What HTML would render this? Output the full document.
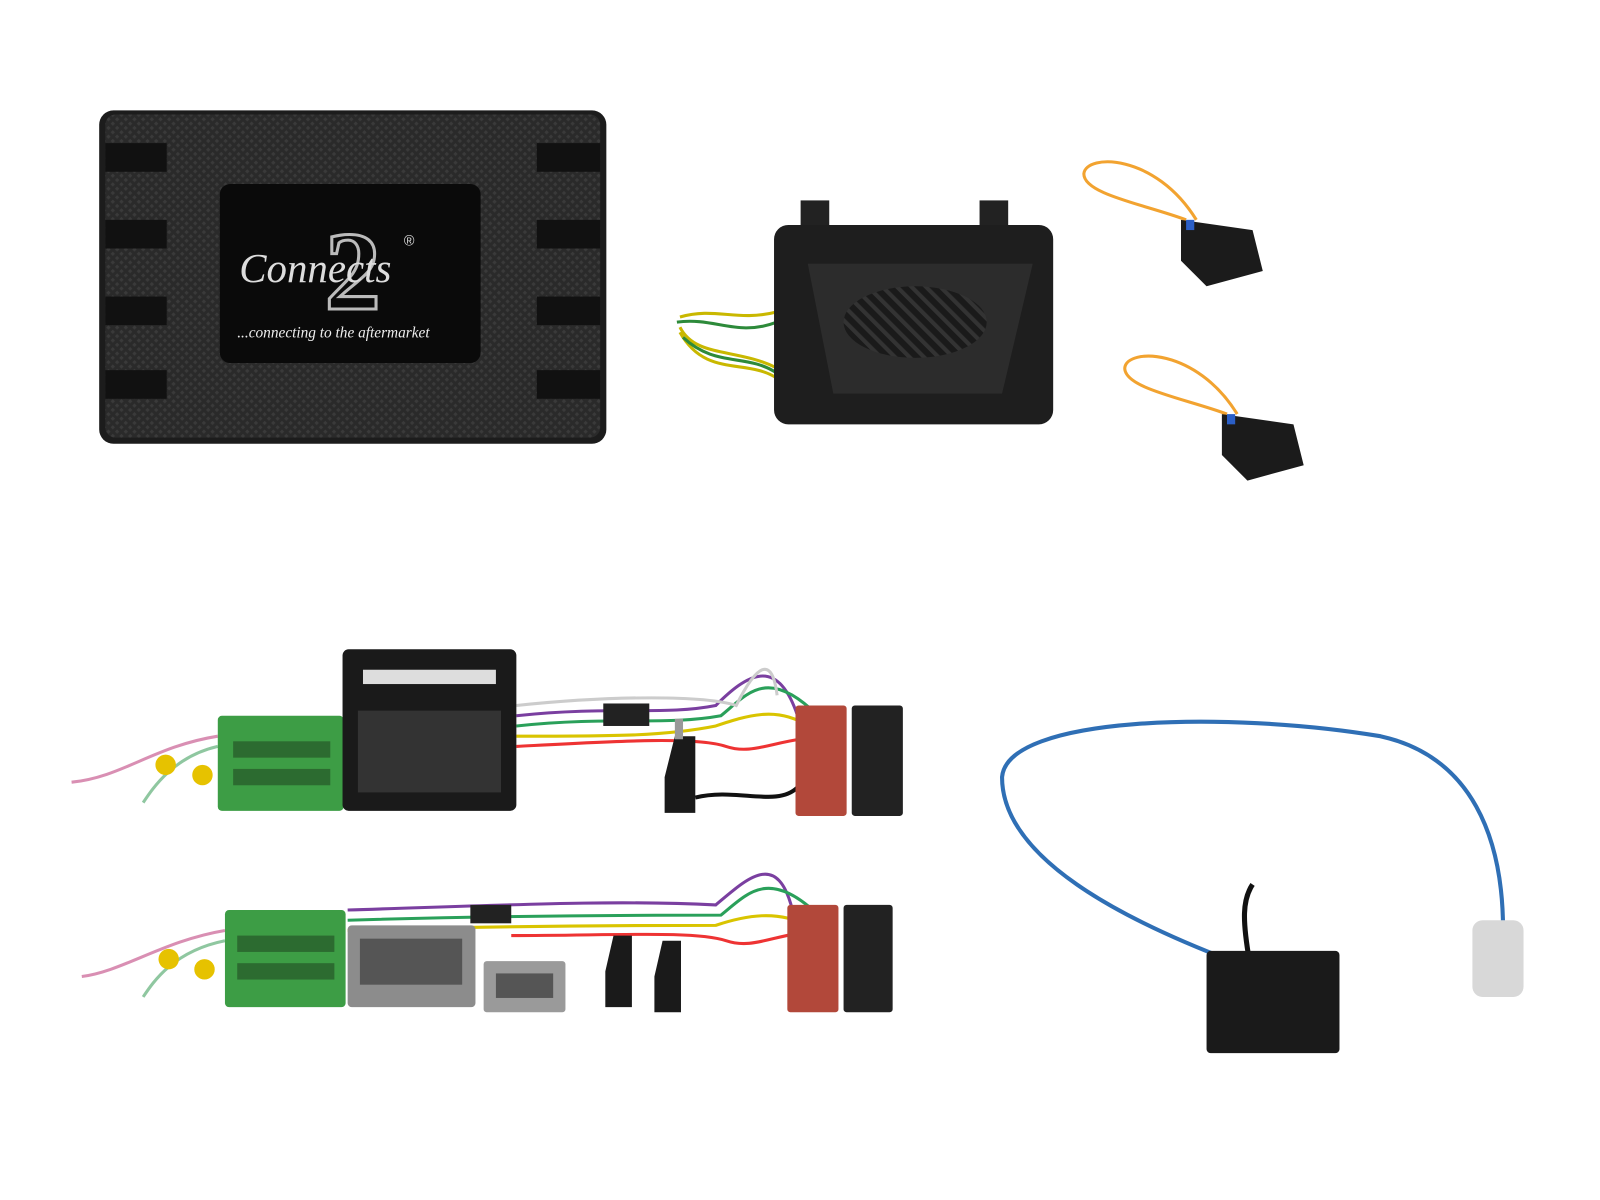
<!DOCTYPE html>
<html><head><meta charset="utf-8"><style>
html,body{margin:0;padding:0;background:#fff;}
svg{display:block;}
</style></head><body>
<svg width="1600" height="1200" viewBox="0 0 1600 1200" xmlns="http://www.w3.org/2000/svg">
<defs>
<pattern id="mesh" width="6" height="6" patternUnits="userSpaceOnUse" patternTransform="rotate(45)">
<rect width="6" height="6" fill="#2a2a2a"/><rect width="3" height="3" fill="#3a3a3a"/>
</pattern>
<pattern id="grill" width="10" height="10" patternUnits="userSpaceOnUse" patternTransform="rotate(-45)">
<rect width="10" height="10" fill="#1a1a1a"/><rect width="4" height="10" fill="#333"/>
</pattern>
</defs>
<g transform="scale(1.0225)">
<!-- main module -->
<rect x="97" y="108" width="496" height="326" rx="14" fill="#1c1c1c"/>
<rect x="103" y="112" width="484" height="316" rx="10" fill="url(#mesh)"/>
<g fill="#111">
<rect x="103" y="140" width="60" height="28"/><rect x="103" y="215" width="60" height="28"/>
<rect x="103" y="290" width="60" height="28"/><rect x="103" y="362" width="60" height="28"/>
<rect x="525" y="140" width="62" height="28"/><rect x="525" y="215" width="62" height="28"/>
<rect x="525" y="290" width="62" height="28"/><rect x="525" y="362" width="62" height="28"/>
</g>
<rect x="215" y="180" width="255" height="175" rx="10" fill="#0a0a0a"/>
<text x="345" y="302" font-family="Liberation Serif, serif" font-size="110" font-weight="bold" fill="none" stroke="#bbb" stroke-width="3" text-anchor="middle">2</text>
<text x="234" y="276" font-family="Liberation Serif, serif" font-style="italic" font-size="40" fill="#ddd">Connects</text>
<text x="395" y="240" font-family="Liberation Sans, sans-serif" font-size="14" fill="#ddd">®</text>
<text x="232" y="330" font-family="Liberation Serif, serif" font-style="italic" font-size="15" fill="#eee">...connecting to the aftermarket</text>

<!-- middle module -->
<path d="M665 310 C700 300 720 315 760 305 M665 320 C680 350 720 340 760 360 M665 325 C690 370 730 350 760 370" stroke="#c9b800" stroke-width="3" fill="none"/>
<path d="M662 315 C700 310 720 330 760 315 M668 330 C700 360 730 345 760 365" stroke="#2d8a3a" stroke-width="3" fill="none"/>
<rect x="783" y="196" width="28" height="30" fill="#222"/><rect x="958" y="196" width="28" height="30" fill="#222"/>
<rect x="757" y="220" width="273" height="195" rx="14" fill="#1e1e1e"/>
<path d="M790 258 L1010 258 L980 385 L815 385 Z" fill="#2c2c2c"/>
<ellipse cx="895" cy="315" rx="70" ry="35" fill="url(#grill)"/>

<!-- orange loops -->
<path d="M1160 215 C1120 200 1060 190 1060 170 C1062 150 1130 150 1170 215" stroke="#f2a330" stroke-width="3" fill="none"/>
<path d="M1155 215 L1225 225 L1235 265 L1180 280 L1155 255 Z" fill="#1b1b1b"/>
<rect x="1160" y="215" width="8" height="10" fill="#2b5fc7"/>
<path d="M1200 405 C1160 390 1100 380 1100 360 C1102 340 1170 340 1210 405" stroke="#f2a330" stroke-width="3" fill="none"/>
<path d="M1195 405 L1265 415 L1275 455 L1220 470 L1195 445 Z" fill="#1b1b1b"/>
<rect x="1200" y="405" width="8" height="10" fill="#2b5fc7"/>

<!-- harness 1 -->
<g fill="none" stroke-width="3">
<path d="M505 700 C600 690 650 700 700 690 C730 660 760 640 780 700" stroke="#7a3fa0"/>
<path d="M505 710 C600 700 650 710 705 700 C730 680 750 650 800 700" stroke="#2aa05a"/>
<path d="M505 720 C600 720 650 720 700 710 C730 700 760 690 790 710" stroke="#d9c400"/>
<path d="M505 730 C600 725 680 720 710 730 C740 740 760 720 820 720" stroke="#e33"/>
<path d="M505 690 C600 680 690 680 720 690 C740 650 755 640 760 680" stroke="#ccc"/>
<path d="M213 720 C150 730 120 760 70 765" stroke="#d98fb3"/>
<path d="M213 730 C170 740 150 770 140 785" stroke="#8fc7a0"/>
</g>
<rect x="590" y="688" width="45" height="22" fill="#222"/>
<rect x="213" y="700" width="123" height="93" rx="4" fill="#3d9d45"/>
<g fill="#2c6b30"><rect x="228" y="725" width="95" height="16"/><rect x="228" y="752" width="95" height="16"/></g>
<circle cx="162" cy="748" r="10" fill="#e6c200"/><circle cx="198" cy="758" r="10" fill="#e6c200"/>
<rect x="335" y="635" width="170" height="158" rx="6" fill="#1a1a1a"/>
<rect x="355" y="655" width="130" height="14" fill="#ddd"/>
<g fill="#333"><rect x="350" y="695" width="140" height="80"/></g>
<path d="M650 760 L660 720 L680 720 L680 795 L650 795 Z" fill="#1a1a1a"/>
<rect x="660" y="703" width="8" height="20" fill="#999"/>
<path d="M680 780 C720 770 760 790 780 770" stroke="#111" stroke-width="4" fill="none"/>
<rect x="778" y="690" width="50" height="108" rx="3" fill="#b2483a"/>
<rect x="833" y="690" width="50" height="108" rx="3" fill="#222"/>

<!-- harness 2 -->
<g fill="none" stroke-width="3">
<path d="M340 890 C500 885 600 880 700 885 C730 860 760 830 775 890" stroke="#7a3fa0"/>
<path d="M340 900 C500 895 650 895 705 895 C730 875 750 850 795 890" stroke="#2aa05a"/>
<path d="M340 910 C500 905 650 905 700 905 C730 895 760 890 790 905" stroke="#d9c400"/>
<path d="M500 915 C600 915 680 910 710 920 C740 930 760 910 815 910" stroke="#e33"/>
<path d="M220 910 C160 920 120 950 80 955" stroke="#d98fb3"/>
<path d="M220 920 C170 930 150 960 140 975" stroke="#8fc7a0"/>
</g>
<rect x="460" y="885" width="40" height="18" fill="#222"/>
<rect x="220" y="890" width="118" height="95" rx="4" fill="#3d9d45"/>
<g fill="#2c6b30"><rect x="232" y="915" width="95" height="16"/><rect x="232" y="942" width="95" height="16"/></g>
<circle cx="165" cy="938" r="10" fill="#e6c200"/><circle cx="200" cy="948" r="10" fill="#e6c200"/>
<rect x="340" y="905" width="125" height="80" rx="4" fill="#8c8c8c"/>
<rect x="352" y="918" width="100" height="45" fill="#555"/>
<rect x="473" y="940" width="80" height="50" rx="3" fill="#9a9a9a"/>
<rect x="485" y="952" width="56" height="24" fill="#555"/>
<path d="M592 950 L600 915 L618 915 L618 985 L592 985 Z" fill="#1a1a1a"/>
<path d="M640 955 L648 920 L666 920 L666 990 L640 990 Z" fill="#1a1a1a"/>
<rect x="770" y="885" width="50" height="105" rx="3" fill="#b2483a"/>
<rect x="825" y="885" width="48" height="105" rx="3" fill="#222"/>

<!-- blue antenna cable -->
<path d="M1205 940 C1100 900 980 840 980 760 C985 700 1200 695 1350 720 C1440 740 1470 820 1470 910" stroke="#2f6fb5" stroke-width="4" fill="none"/>
<path d="M1222 940 C1215 900 1215 880 1225 865" stroke="#111" stroke-width="5" fill="none"/>
<rect x="1180" y="930" width="130" height="100" rx="4" fill="#1a1a1a"/>
<rect x="1440" y="900" width="50" height="75" rx="10" fill="#d8d8d8"/>
</g>
</svg>
</body></html>
